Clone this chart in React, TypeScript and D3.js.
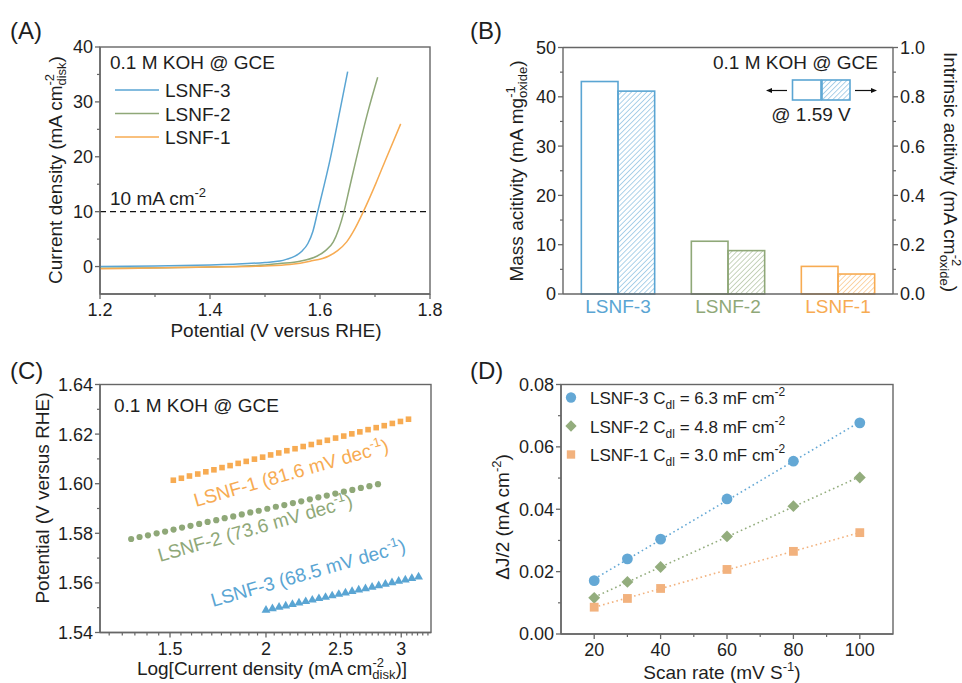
import React from 'react';
import * as d3 from 'd3';

const FONT = "'Liberation Sans', Arial, Helvetica, sans-serif";
const AXIS = '#666666';
const INK = '#1e1e1e';
const BLUE = '#5aa5d3';
const GREEN = '#8fa878';
const ORANGE = '#f7ab52';

// sample order used everywhere
const samples = ['LSNF-3', 'LSNF-2', 'LSNF-1'];
const sampleColors = [BLUE, GREEN, ORANGE];
const cdlColors = ['#64a8d5', '#93ad7d', '#f2b27e'];

// (A) LSV curves, potential (V vs RHE) / current density (mA cm-2)
const lsvV3 = [1.2, 1.3, 1.4, 1.45, 1.5, 1.527, 1.54, 1.5545, 1.567, 1.578, 1.587, 1.5958, 1.607, 1.6182, 1.6364, 1.6503];
const lsvJ3 = [0, 0.1, 0.3, 0.45, 0.75, 1.0, 1.35, 1.9, 2.8, 4.2, 6.4, 10, 14.6, 19.45, 28.5, 35.5];
const lsvV2 = [1.2, 1.4, 1.5, 1.527, 1.5636, 1.594, 1.61, 1.6242, 1.634, 1.6436, 1.654, 1.6655, 1.6879, 1.7049];
const lsvJ2 = [-0.3, -0.1, 0.3, 0.55, 0.97, 1.88, 2.9, 4.5, 6.8, 10, 14.5, 19.45, 28.5, 34.5];
const lsvV1 = [1.2, 1.4, 1.5, 1.545, 1.5818, 1.6152, 1.632, 1.6485, 1.664, 1.6788, 1.7018, 1.7182, 1.7467];
const lsvJ1 = [-0.4, -0.1, 0.1, 0.36, 0.97, 1.88, 2.9, 4.5, 7.0, 10, 15.2, 19.2, 26];

// (B) activities at 1.59 V
const massActivity = [43.1, 10.7, 5.6];
const intrinsicActivity = [0.823, 0.176, 0.081];

// (C) Tafel plots
const tafelX1 = [1.515, 1.552, 1.59, 1.63, 1.67, 1.711, 1.753, 1.796, 1.84, 1.885, 1.932, 1.98, 2.028, 2.078, 2.129,
  2.182, 2.236, 2.291, 2.347, 2.404, 2.464, 2.525, 2.587, 2.65, 2.716, 2.783, 2.851, 2.921, 2.993, 3.066];
const tafelY1 = [1.6014, 1.6022, 1.6031, 1.6039, 1.6048, 1.6056, 1.6065, 1.6073, 1.6082, 1.609, 1.6099, 1.6107, 1.6116,
  1.6124, 1.6133, 1.6141, 1.615, 1.6158, 1.6167, 1.6175, 1.6184, 1.6192, 1.6201, 1.6209, 1.6218, 1.6226, 1.6234, 1.6243,
  1.6251, 1.626];
const tafelX2 = [1.335, 1.369, 1.404, 1.441, 1.478, 1.516, 1.555, 1.595, 1.637, 1.679, 1.723, 1.767, 1.813, 1.86, 1.908,
  1.957, 2.008, 2.06, 2.113, 2.168, 2.223, 2.281, 2.34, 2.4, 2.462, 2.526, 2.591, 2.658, 2.727, 2.798];
const tafelY2 = [1.5777, 1.5785, 1.5792, 1.58, 1.5807, 1.5815, 1.5823, 1.583, 1.5838, 1.5846, 1.5853, 1.5861, 1.5868,
  1.5876, 1.5884, 1.5891, 1.5899, 1.5907, 1.5914, 1.5922, 1.5929, 1.5937, 1.5945, 1.5952, 1.596, 1.5968, 1.5975, 1.5983,
  1.599, 1.5998];
const tafelX3 = [2.0, 2.039, 2.08, 2.122, 2.165, 2.208, 2.253, 2.298, 2.344, 2.391, 2.439, 2.488, 2.538, 2.589, 2.641,
  2.695, 2.749, 2.804, 2.861, 2.918, 2.977, 3.037, 3.097, 3.16];
const tafelY3 = [1.549, 1.5496, 1.5502, 1.5507, 1.5513, 1.5519, 1.5525, 1.5531, 1.5537, 1.5542, 1.5548, 1.5554, 1.556,
  1.5566, 1.5572, 1.5577, 1.5583, 1.5589, 1.5595, 1.5601, 1.5607, 1.5612, 1.5618, 1.5624];
const tafelSlopes = ['68.5', '73.6', '81.6'];

// (D) double layer capacitance
const scanRate = [20, 30, 40, 60, 80, 100];
const dj3 = [0.0171, 0.0241, 0.0304, 0.0433, 0.0554, 0.0677];
const dj2 = [0.0116, 0.0167, 0.0215, 0.0313, 0.041, 0.0502];
const dj1 = [0.0086, 0.0114, 0.0146, 0.0207, 0.0265, 0.0325];
const cdl = ['6.3', '4.8', '3.0'];

// ticks
const aXTicks = [1.2, 1.4, 1.6, 1.8];
const aXMinor = [1.3, 1.5, 1.7];
const aYTicks = [0, 10, 20, 30, 40];
const aYMinor = [5, 15, 25, 35];
const bYTicks = [0, 10, 20, 30, 40, 50];
const bYMinor = [5, 15, 25, 35, 45];
const bY2Ticks = [0, 0.2, 0.4, 0.6, 0.8, 1.0];
const bY2Minor = [0.1, 0.3, 0.5, 0.7, 0.9];
const cXTicks = [1.5, 2, 2.5, 3];
const cXMinor = [1.25, 1.3, 1.35, 1.4, 1.45, 1.55, 1.6, 1.65, 1.7, 1.75, 1.8, 1.85, 1.9, 1.95, 2.05, 2.1, 2.15, 2.2,
  2.25, 2.3, 2.35, 2.4, 2.45, 2.55, 2.6, 2.65, 2.7, 2.75, 2.8, 2.85, 2.9, 2.95, 3.05, 3.1, 3.15, 3.2, 3.25];
const cYTicks = [1.54, 1.56, 1.58, 1.6, 1.62, 1.64];
const cYMinor = [1.55, 1.57, 1.59, 1.61, 1.63];
const dXTicks = [20, 40, 60, 80, 100];
const dXMinor = [30, 50, 70, 90];
const dYTicks = [0, 0.02, 0.04, 0.06, 0.08];
const dYMinor = [0.01, 0.03, 0.05, 0.07];

function YAxis({ scale, x, ticks, minor, fmt, side = -1 }) {
  return (
    <g>
      <line x1={x} x2={x} y1={scale.range()[0]} y2={scale.range()[1]} stroke={AXIS} strokeWidth={1.4} />
      {minor.map((v) => (
        <line key={'m' + v} x1={x} x2={x + side * 3} y1={scale(v)} y2={scale(v)} stroke={AXIS} strokeWidth={1.2} />
      ))}
      {ticks.map((v) => (
        <g key={v}>
          <line x1={x} x2={x + side * 5} y1={scale(v)} y2={scale(v)} stroke={AXIS} strokeWidth={1.3} />
          <text x={x + side * 7} y={scale(v)} dy="0.36em" textAnchor={side < 0 ? 'end' : 'start'} fontSize={18} fill={INK}>
            {fmt(v)}
          </text>
        </g>
      ))}
    </g>
  );
}

function XAxis({ scale, y, ticks, minor, fmt, x0, x1 }) {
  return (
    <g>
      <line x1={x0} x2={x1} y1={y} y2={y} stroke={AXIS} strokeWidth={1.4} />
      {minor.map((v) => (
        <line key={'m' + v} x1={scale(v)} x2={scale(v)} y1={y} y2={y + 3} stroke={AXIS} strokeWidth={1.2} />
      ))}
      {ticks.map((v) => (
        <g key={v}>
          <line x1={scale(v)} x2={scale(v)} y1={y} y2={y + 5} stroke={AXIS} strokeWidth={1.3} />
          <text x={scale(v)} y={y + 22} textAnchor="middle" fontSize={18} fill={INK}>{fmt(v)}</text>
        </g>
      ))}
    </g>
  );
}

function Frame({ x0, x1, y0, y1 }) {
  return <rect x={x0} y={y0} width={x1 - x0} height={y1 - y0} fill="none" stroke={AXIS} strokeWidth={1.4} />;
}

function fit(xs, ys) {
  const mx = d3.mean(xs);
  const my = d3.mean(ys);
  const b = d3.sum(xs.map((x, i) => (x - mx) * (ys[i] - my))) / d3.sum(xs.map((x) => (x - mx) ** 2));
  return [b, my - b * mx];
}

export default function App() {
  // ---------- (A) ----------
  const ax = d3.scaleLinear().domain([1.2, 1.8]).range([100, 430]);
  const ay = d3.scaleLinear().domain([-5, 40]).range([294, 47]);
  const lsvLine = d3.line().x((d) => ax(d[0])).y((d) => ay(d[1])).curve(d3.curveMonotoneX);
  const lsv = [
    d3.zip(lsvV3, lsvJ3),
    d3.zip(lsvV2, lsvJ2),
    d3.zip(lsvV1, lsvJ1),
  ];

  // ---------- (B) ----------
  const bx = d3.scaleBand().domain(samples).range([563, 893]).paddingInner(1 / 3).paddingOuter(1 / 6);
  const by = d3.scaleLinear().domain([0, 50]).range([294, 47.5]);
  const by2 = d3.scaleLinear().domain([0, 1]).range([294, 47.5]);
  const bw = bx.bandwidth() / 2;

  // ---------- (C) ----------
  const cx = d3.scaleLog().domain([1.216, 3.28]).range([100, 431]);
  const cy = d3.scaleLinear().domain([1.54, 1.64]).range([632.5, 384.5]);
  const tri = d3.symbol(d3.symbolTriangle, 34)();

  // ---------- (D) ----------
  const dx = d3.scaleLinear().domain([10, 110]).range([561, 893]);
  const dy = d3.scaleLinear().domain([0, 0.08]).range([634, 384.5]);
  const cdlSeries = [dj3, dj2, dj1];
  const xr = d3.extent(scanRate);

  const marker = (k, x, y, c, s = 1) => {
    if (k === 0) return <circle cx={x} cy={y} r={5.4 * s} fill={c} />;
    if (k === 1) return <rect x={x - 4.2 * s} y={y - 4.2 * s} width={8.4 * s} height={8.4 * s} fill={c} transform={`rotate(45 ${x} ${y})`} />;
    return <rect x={x - 4.4 * s} y={y - 4.4 * s} width={8.8 * s} height={8.8 * s} fill={c} />;
  };

  return (
    <svg
      width={962}
      height={683}
      style={{ position: 'absolute', left: 0, top: 0, display: 'block', background: '#fff' }}
      fontFamily={FONT}
    >
      <defs>
        {sampleColors.map((c, i) => (
          <pattern key={i} id={'hatch' + i} patternUnits="userSpaceOnUse" width={3.6} height={3.6} patternTransform="rotate(45)">
            <line x1={0} y1={0} x2={0} y2={3.6} stroke={c} strokeWidth={1} />
          </pattern>
        ))}
      </defs>

      {/* panel letters */}
      <text x={10} y={39} fontSize={24} fill={INK}>(A)</text>
      <text x={470} y={39} fontSize={24} fill={INK}>(B)</text>
      <text x={10} y={379} fontSize={24} fill={INK}>(C)</text>
      <text x={470} y={379} fontSize={24} fill={INK}>(D)</text>

      {/* ---------- (A) ---------- */}
      <Frame x0={100} x1={430} y0={47} y1={294} />
      <line x1={ax(1.2)} x2={ax(1.8)} y1={ay(10)} y2={ay(10)} stroke="#111" strokeWidth={1.3} strokeDasharray="6 4" />
      {lsv.map((pts, i) => (
        <path key={i} d={lsvLine(pts)} fill="none" stroke={sampleColors[i]} strokeWidth={1.5} />
      ))}
      <YAxis scale={ay} x={100} ticks={aYTicks} minor={aYMinor} fmt={(v) => String(v)} />
      <XAxis scale={ax} y={294} x0={100} x1={430} ticks={aXTicks} minor={aXMinor} fmt={d3.format('.1f')} />
      <text x={110} y={69} fontSize={19} fill={INK}>0.1 M KOH @ GCE</text>
      {samples.map((s, i) => (
        <g key={s}>
          <line x1={115} x2={159} y1={90 + i * 23.5} y2={90 + i * 23.5} stroke={sampleColors[i]} strokeWidth={1.5} />
          <text x={165} y={97 + i * 23.5} fontSize={19} fill={INK}>{s}</text>
        </g>
      ))}
      <text x={110} y={205} fontSize={19} fill={INK}>
        10 mA cm<tspan dy={-8} fontSize={13}>-2</tspan>
      </text>
      <text transform="translate(62,170) rotate(-90)" textAnchor="middle" fontSize={19} fill={INK}>
        Current density (mA cm<tspan dy={-8} fontSize={13}>-2</tspan>
        <tspan dx={-11.6} dy={12} fontSize={13}>disk</tspan>
        <tspan dy={-4}>)</tspan>
      </text>
      <text x={276} y={337} textAnchor="middle" fontSize={19} fill={INK}>Potential (V versus RHE)</text>

      {/* ---------- (B) ---------- */}
      <line x1={563} x2={893} y1={47.5} y2={47.5} stroke={AXIS} strokeWidth={1.4} />
      {samples.map((s, i) => (
        <g key={s}>
          <rect x={bx(s)} y={by(massActivity[i])} width={bw} height={294 - by(massActivity[i])} fill="#fff" stroke={sampleColors[i]} strokeWidth={1.6} />
          <rect x={bx(s) + bw} y={by2(intrinsicActivity[i])} width={bw} height={294 - by2(intrinsicActivity[i])} fill={`url(#hatch${i})`} stroke={sampleColors[i]} strokeWidth={1.6} />
          <text x={bx(s) + bw} y={313} textAnchor="middle" fontSize={19} fill={sampleColors[i]}>{s}</text>
        </g>
      ))}
      <line x1={563} x2={893} y1={294} y2={294} stroke={AXIS} strokeWidth={1.4} />
      <YAxis scale={by} x={563} ticks={bYTicks} minor={bYMinor} fmt={(v) => String(v)} />
      <YAxis scale={by2} x={893} ticks={bY2Ticks} minor={bY2Minor} fmt={d3.format('.1f')} side={1} />
      <text x={878} y={69} textAnchor="end" fontSize={19} fill={INK}>0.1 M KOH @ GCE</text>
      <rect x={792.5} y={80} width={28.5} height={20} fill="#fff" stroke={BLUE} strokeWidth={1.6} />
      <rect x={822} y={80} width={28} height={20} fill="url(#hatch0)" stroke={BLUE} strokeWidth={1.6} />
      <line x1={771} x2={787} y1={90.5} y2={90.5} stroke="#111" strokeWidth={1.2} />
      <path d="M766,90.5 L772,88 L772,93 Z" fill="#111" />
      <line x1={855} x2={872} y1={90.5} y2={90.5} stroke="#111" strokeWidth={1.2} />
      <path d="M877,90.5 L871,88 L871,93 Z" fill="#111" />
      <text x={811} y={121} textAnchor="middle" fontSize={19} fill={INK}>@ 1.59 V</text>
      <text transform="translate(523,171) rotate(-90)" textAnchor="middle" fontSize={19} fill={INK}>
        Mass acitivity (mA mg<tspan dy={-8} fontSize={13}>-1</tspan>
        <tspan dx={-11.6} dy={12} fontSize={13}>oxide</tspan>
        <tspan dy={-4}>)</tspan>
      </text>
      <text transform="translate(944,172) rotate(90)" textAnchor="middle" fontSize={19} fill={INK}>
        Intrinsic acitivity (mA cm<tspan dy={-8} fontSize={13}>-2</tspan>
        <tspan dx={-11.6} dy={12} fontSize={13}>oxide</tspan>
        <tspan dy={-4}>)</tspan>
      </text>

      {/* ---------- (C) ---------- */}
      <Frame x0={100} x1={431} y0={384.5} y1={632.5} />
      {tafelX1.map((x, i) => (
        <rect key={'o' + i} x={cx(x) - 2.8} y={cy(tafelY1[i]) - 2.8} width={5.6} height={5.6} fill={ORANGE} />
      ))}
      {tafelX2.map((x, i) => (
        <circle key={'g' + i} cx={cx(x)} cy={cy(tafelY2[i])} r={3.1} fill={GREEN} />
      ))}
      {tafelX3.map((x, i) => (
        <path key={'b' + i} d={tri} transform={`translate(${cx(x)},${cy(tafelY3[i])})`} fill={BLUE} />
      ))}
      <YAxis scale={cy} x={100} ticks={cYTicks} minor={cYMinor} fmt={d3.format('.2f')} />
      <XAxis scale={cx} y={632.5} x0={100} x1={431} ticks={cXTicks} minor={cXMinor} fmt={(v) => String(v)} />
      <text x={114} y={412} fontSize={19} fill={INK}>0.1 M KOH @ GCE</text>
      {[
        [213, 607, 0],
        [160, 562, 1],
        [196, 507, 2],
      ].map(([x, y, i]) => (
        <text key={i} transform={`translate(${x},${y}) rotate(-16)`} fontSize={19} fill={sampleColors[i]}>
          {samples[i]} ({tafelSlopes[i]} mV dec<tspan dy={-8} fontSize={13}>-1</tspan>
          <tspan dy={8}>)</tspan>
        </text>
      ))}
      <text transform="translate(49,498) rotate(-90)" textAnchor="middle" fontSize={19} fill={INK}>
        Potential (V versus RHE)
      </text>
      <text x={272} y={675} textAnchor="middle" fontSize={19} fill={INK}>
        Log[Current density (mA cm<tspan dy={-8} fontSize={13}>-2</tspan>
        <tspan dx={-11.6} dy={12} fontSize={13}>disk</tspan>
        <tspan dy={-4}>)]</tspan>
      </text>

      {/* ---------- (D) ---------- */}
      <Frame x0={561} x1={893} y0={384.5} y1={634} />
      {cdlSeries.map((ys, k) => {
        const [b, a] = fit(scanRate, ys);
        return (
          <line key={'f' + k} x1={dx(xr[0])} x2={dx(xr[1])} y1={dy(a + b * xr[0])} y2={dy(a + b * xr[1])}
            stroke={cdlColors[k]} strokeWidth={1.6} strokeDasharray="1.6 3" />
        );
      })}
      {cdlSeries.map((ys, k) => (
        <g key={'p' + k}>
          {scanRate.map((x, i) => <g key={i}>{marker(k, dx(x), dy(ys[i]), cdlColors[k])}</g>)}
        </g>
      ))}
      <YAxis scale={dy} x={561} ticks={dYTicks} minor={dYMinor} fmt={d3.format('.2f')} />
      <XAxis scale={dx} y={634} x0={561} x1={893} ticks={dXTicks} minor={dXMinor} fmt={(v) => String(v)} />
      {samples.map((s, k) => (
        <g key={s}>
          {marker(k, 571, 397.5 + k * 28.5, cdlColors[k], 0.95)}
          <text x={590} y={404 + k * 28.5} fontSize={17} fill={INK}>
            {s} C<tspan dy={5} fontSize={12}>dl</tspan>
            <tspan dy={-5}> = {cdl[k]} mF cm</tspan>
            <tspan dy={-8} fontSize={12}>-2</tspan>
          </text>
        </g>
      ))}
      <text transform="translate(509,517) rotate(-90)" textAnchor="middle" fontSize={19} fill={INK}>
        ΔJ/2 (mA cm<tspan dy={-8} fontSize={13}>-2</tspan>
        <tspan dy={8}>)</tspan>
      </text>
      <text x={722} y={679} textAnchor="middle" fontSize={19} fill={INK}>
        Scan rate (mV S<tspan dy={-8} fontSize={13}>-1</tspan>
        <tspan dy={8}>)</tspan>
      </text>
    </svg>
  );
}
